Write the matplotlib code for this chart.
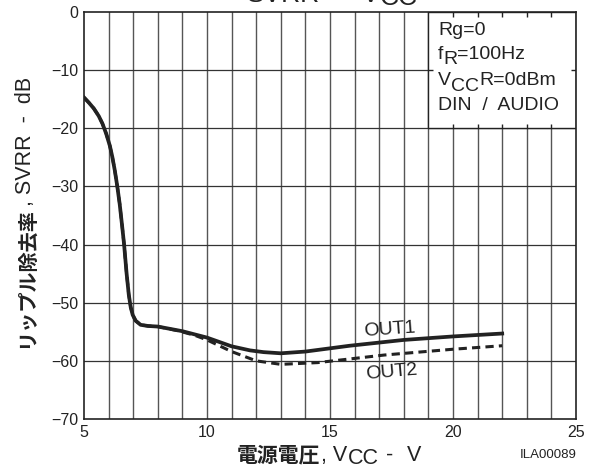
import numpy as np
import matplotlib
matplotlib.use("Agg")
import matplotlib.pyplot as plt
from matplotlib.patches import Rectangle

plt.rcParams['font.family'] = ['Liberation Sans', 'Noto Sans CJK JP', 'DejaVu Sans']

# ---- data ----
vcc_out1 = [5.0, 5.2, 5.4, 5.6, 5.75, 5.9, 6.05, 6.15, 6.25, 6.35, 6.45, 6.55, 6.63, 6.73,
            6.82, 6.9, 6.98, 7.1, 7.3, 7.6, 8.0,
            9.0, 10.0, 11.0, 11.75, 12.3, 13.0, 14.0, 15.8, 18.0, 20.0, 22.0]
svrr_out1 = [-14.7, -15.6, -16.6, -17.9, -19.2, -20.9, -23.0, -24.9, -27.2, -29.9, -33.0, -36.8, -40.0, -44.9,
             -48.6, -50.8, -52.1, -53.1, -53.8, -54.0, -54.1,
             -54.9, -56.0, -57.5, -58.2, -58.5, -58.7, -58.4, -57.4, -56.4, -55.8, -55.3]
vcc_out2 = [5.0, 5.2, 5.4, 5.6, 5.75, 5.9, 6.05, 6.15, 6.25, 6.35, 6.45, 6.55, 6.63, 6.73,
            6.82, 6.9, 6.98, 7.1, 7.3, 7.6, 8.0,
            8.8, 9.5, 10.0, 11.0, 12.0, 13.0, 14.5, 17.2, 20.0, 22.0]
svrr_out2 = [-14.7, -15.6, -16.6, -17.9, -19.2, -20.9, -23.0, -24.9, -27.2, -29.9, -33.0, -36.8, -40.0, -44.9,
             -48.6, -50.8, -52.1, -53.1, -53.8, -54.0, -54.1,
             -54.8, -55.6, -56.4, -58.4, -60.0, -60.6, -60.3, -59.0, -58.0, -57.4]
x_ticks = [5, 10, 15, 20, 25]
y_ticks = [0, -10, -20, -30, -40, -50, -60, -70]

W, H = 594, 471
INK = '#222222'
fig = plt.figure(figsize=(W / 100, H / 100), dpi=100)
ax = fig.add_axes([84 / W, (H - 419) / H, 492 / W, 407 / H])
ax.set_xlim(5, 25)
ax.set_ylim(-70, 0)


def fx(x):
    return x / W


def fy(y):
    return 1 - y / H


# grid
for xv in np.arange(6, 25, 1):
    ax.axvline(xv, color='#555555', lw=1.0, zorder=1)
for yv in np.arange(-60, 0, 10):
    ax.axhline(yv, color='#333333', lw=0.9, zorder=1)

# condition box
ax.add_patch(Rectangle((19, -20), 6, 20, facecolor='white', edgecolor=INK, lw=1.0, zorder=1.5))
ax.vlines(np.arange(20, 25, 1), -20, -19.2, color=INK, lw=1.0, zorder=1.6)
ax.vlines(np.arange(20, 25, 1), -0.8, 0, color=INK, lw=1.0, zorder=1.6)
ax.hlines(-10, 19, 19.2, color=INK, lw=1.0, zorder=1.6)
ax.hlines(-10, 24.8, 25, color=INK, lw=1.0, zorder=1.6)

# curves
ax.plot(vcc_out2, svrr_out2, color=INK, lw=2.2, ls=(0, (2.7, 1.7)), zorder=3)
ax.plot(vcc_out1, svrr_out1, color=INK, lw=2.7, zorder=3.1, solid_joinstyle='round')
ax.text(17.44, -54.6, "OUT1", fontsize=14, rotation=4, ha='center', va='center', color=INK)
ax.text(17.5, -61.9, "OUT2", fontsize=14, rotation=5, ha='center', va='center', color=INK)

for s in ax.spines.values():
    s.set_linewidth(1.2)
    s.set_color(INK)
    s.set_zorder(5)
ax.set_xticks(x_ticks)
ax.set_yticks(y_ticks)
ax.set_yticklabels([str(v).replace('-', '\u2212') for v in y_ticks])
ax.tick_params(direction='in', length=0, labelsize=11.5, colors=INK, pad=4)

fig.canvas.draw()
r = fig.canvas.get_renderer()


def seq(x, y, parts, size):
    """Place horizontal text pieces one after another. parts: (text, dy_px, bold)."""
    for txt, dy, bold in parts:
        kw = dict(fontsize=size, color=INK, ha='left', va='baseline')
        if bold:
            kw.update(fontweight='bold', family=['Noto Sans CJK JP'])
        t = fig.text(fx(x), fy(y + dy), txt, **kw)
        x = t.get_window_extent(r).x1
    return x


# condition text
BOX_X = 438
seq(BOX_X, 35, [("Rg=0", 0, False)], 14)
seq(BOX_X, 59, [("f", 0, False), ("R", 5, False), ("=100Hz", 0, False)], 14)
seq(BOX_X, 85, [("V", 0, False), ("CC", 6, False), ("R=0dBm", 0, False)], 14)
seq(BOX_X, 110, [("DIN  /  AUDIO", 0, False)], 14)

# title (cut off at top edge)
fig.text(fx(247), fy(2), "SVRR", fontsize=19, color=INK, ha='left', va='baseline')
fig.text(fx(340), fy(2), "\u2013", fontsize=19, color=INK, ha='center', va='baseline')
xe = fig.text(fx(362), fy(2), "V", fontsize=19, color=INK, ha='left', va='baseline').get_window_extent(r).x1
fig.text(fx(xe), fy(5), "CC", fontsize=19, color=INK, ha='left', va='baseline')

# x label
XB = 461
xe = seq(237, XB, [("電源電圧", 0, True)], 15)
xe = seq(xe + 1, XB, [(", V", 0, False), ("CC", 3, False)], 15.5)
fig.text(fx(390), fy(XB), "-", fontsize=15.5, color=INK, ha='center', va='baseline')
fig.text(fx(407), fy(XB), "V", fontsize=15.5, color=INK, ha='left', va='baseline')

fig.text(fx(577), fy(455), "ILA00089", fontsize=9.5, ha='right', va='center', color=INK)

# y label (rotated, built bottom-up)
YX = 25
jy = fig.text(fx(YX), fy(348), "リップル除去率", rotation=90, fontsize=14.5, fontweight='bold',
              family=['Noto Sans CJK JP'], ha='center', va='bottom', color=INK)
top = H - jy.get_window_extent(r).y1
fig.text(fx(YX + 1), fy(top - 1), ", SVRR  -  dB", rotation=90, fontsize=15.5,
         ha='center', va='bottom', color=INK)

fig.savefig("out.png", dpi=100)
